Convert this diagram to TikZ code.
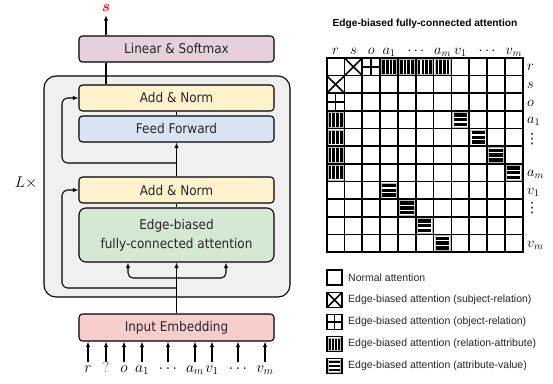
\RequirePackage{fix-cm}
\documentclass[tikz,border=0pt]{standalone}
\usepackage{fontspec}
\usepackage{bm}
\usetikzlibrary{arrows.meta}
\newfontfamily\boxfont[FakeStretch=0.9]{DejaVu Sans}
\newfontfamily\legfont{Liberation Sans}
\newfontfamily\dotsfont{DejaVu Sans}
\definecolor{cLin}{HTML}{E6D0DE}
\definecolor{cAdd}{HTML}{FFF2CC}
\definecolor{cFF}{HTML}{DAE3F3}
\definecolor{cEdge}{HTML}{D5E8D4}
\definecolor{cEmb}{HTML}{F8CECC}
\definecolor{cOut}{HTML}{F0F0F0}
\newcommand\gridX{326.7}
\newcommand\gridY{58}
\newcommand\gridW{17.82}
\newcommand\gridH{17.64}
\newcommand\patX[4]{\draw[pline] ({#1},{#2}) -- ({#1+#3},{#2+#4}) ({#1},{#2+#4}) -- ({#1+#3},{#2});}
\newcommand\patP[4]{\draw[pline] ({#1+#3/2},{#2}) -- ({#1+#3/2},{#2+#4}) ({#1},{#2+#4/2}) -- ({#1+#3},{#2+#4/2});}
\newcommand\patV[4]{%
  \draw[gray!55, line width=0.5pt] ({#1+1.3},{#2+1.3}) rectangle ({#1+#3-1.3},{#2+#4-1.3});%
  \pgfmathsetmacro\pbw{(#3-2*2-3*1.1)/4}%
  \foreach \k in {0,...,3}{\fill ({#1+2+\k*(\pbw+1.1)},{#2+2}) rectangle ++(\pbw,{#4-4});}}
\newcommand\patH[4]{%
  \draw[gray!55, line width=0.5pt] ({#1+1.3},{#2+1.3}) rectangle ({#1+#3-1.3},{#2+#4-1.3});%
  \pgfmathsetmacro\pbh{(#4-2*2.3-2*1.3)/3}%
  \foreach \k in {0,...,2}{\fill ({#1+2.3},{#2+2.3+\k*(\pbh+1.3)}) rectangle ++({#3-4.6},\pbh);}}
\begin{document}
\begin{tikzpicture}[x=1pt,y=-1pt]
\tikzset{
 blk/.style={draw=black, line width=1.1pt, rounded corners=3.5pt, minimum width=195pt, minimum height=26pt, inner sep=0pt, font=\boxfont\fontsize{13.4}{19}\selectfont, text=black!85},
 arr/.style={line width=1.1pt, -{Latex[length=5.5pt,width=4.5pt]}},
 dblarr/.style={line width=1.1pt, {Latex[length=5.5pt,width=4.5pt]}-{Latex[length=5.5pt,width=4.5pt]}},
 ln/.style={line width=1.1pt},
 mlab/.style={font=\fontsize{15.5}{17}\selectfont, inner sep=0pt},
 glab/.style={font=\fontsize{14.5}{16}\selectfont, inner sep=0pt},
 vdlab/.style={font=\dotsfont\fontsize{14}{16}\selectfont, inner sep=0pt},
 pline/.style={line width=1.6pt},
 gline/.style={line width=1.7pt, line cap=rect},
 leg/.style={font=\legfont\fontsize{10.5}{12}\selectfont, anchor=west, inner sep=0pt, text=black!85},
 ttl/.style={font=\legfont\bfseries\fontsize{10.2}{12}\selectfont, inner sep=0pt},
}
\useasboundingbox (0,0) rectangle (553,383);
% ---------- left: model ----------
\node[draw, fill=cOut, line width=1.1pt, rounded corners=12pt, minimum width=246pt, minimum height=221pt, inner sep=0pt] (outer) at (167,186.5) {};
\node[blk, fill=cLin] (lin) at (176.5,49) {Linear \& Softmax};
\node[blk, fill=cAdd] (an2) at (176.5,98) {Add \& Norm};
\node[blk, fill=cFF] (ff) at (176.5,129) {Feed Forward};
\node[blk, fill=cAdd] (an1) at (176.5,190) {Add \& Norm};
\node[blk, fill=cEdge, minimum height=54pt, rounded corners=7pt, align=center] (eb) at (176.5,235) {Edge-biased\\fully-connected attention};
\node[blk, fill=cEmb, minimum height=27pt] (emb) at (176.5,327.5) {Input Embedding};
\node[mlab, text=red, anchor=base] (sout) at (106,11) {$\bm{s}$};
\node[mlab] (lx) at (26,183) {$L\times$};
% connectors
\draw[ln] (an2.north -| sout) -- (lin.south -| sout);
\draw[arr] (lin.north -| sout) -- ([yshift=-4pt]sout.south);
\draw[ln] (an2.south) -- (ff.north);
\draw[arr] (an1.north) -- (ff.south);
\draw[ln] (an1.south) -- (eb.north);
\draw[arr] (emb.north) -- (eb.south);
\coordinate (fk) at (176.5,278);
\draw[dblarr, rounded corners=5pt] ([xshift=-48.5pt]eb.south) |- (fk) -| ([xshift=49.5pt]eb.south);
\coordinate (r2a) at (176.5,163);
\draw[arr, rounded corners=6pt] (r2a) -- (62,163) -- (62,98) -- (an2.west);
\coordinate (r1a) at (176.5,288);
\draw[arr, rounded corners=6pt] (r1a) -- (62,288) -- (62,190) -- (an1.west);
% inputs
\foreach \x/\t [count=\i] in {88/{$r$}, 106/{\color{red}?}, 124/{$o$}, 142/{$a_1$}, 168/{$\cdots$}, 195/{$a_m$}, 212/{$v_1$}, 238/{$\cdots$}, 265/{$v_m$}}{
  \node[mlab, anchor=base] (in\i) at (\x,372) {\t};
  \coordinate (it\i) at (\x,362);
  \draw[arr] (it\i) -- (it\i |- emb.south);
}
% ---------- right: attention grid ----------
\node[ttl] (title) at (425,24) {Edge-biased fully-connected attention};
% patterns
\foreach \c/\r in {2/1,1/2}{
  \pgfmathsetmacro\xa{\gridX+(\c-1)*\gridW}\pgfmathsetmacro\ya{\gridY+(\r-1)*\gridH}
  \patX{\xa}{\ya}{\gridW}{\gridH}}
\foreach \c/\r in {3/1,1/3}{
  \pgfmathsetmacro\xa{\gridX+(\c-1)*\gridW}\pgfmathsetmacro\ya{\gridY+(\r-1)*\gridH}
  \patP{\xa}{\ya}{\gridW}{\gridH}}
\foreach \c/\r in {4/1,5/1,6/1,7/1,1/4,1/5,1/6,1/7}{
  \pgfmathsetmacro\xa{\gridX+(\c-1)*\gridW}\pgfmathsetmacro\ya{\gridY+(\r-1)*\gridH}
  \patV{\xa}{\ya}{\gridW}{\gridH}}
\foreach \c/\r in {8/4,9/5,10/6,11/7,4/8,5/9,6/10,7/11}{
  \pgfmathsetmacro\xa{\gridX+(\c-1)*\gridW}\pgfmathsetmacro\ya{\gridY+(\r-1)*\gridH}
  \patH{\xa}{\ya}{\gridW}{\gridH}}
% grid lines
\foreach \i in {0,...,11}{
  \draw[gline] ({\gridX+\i*\gridW},\gridY) -- ++(0,{11*\gridH});
  \draw[gline] (\gridX,{\gridY+\i*\gridH}) -- ++({11*\gridW},0);
}
% column labels
\foreach \x/\t [count=\i] in {1/{$r$}, 2/{$s$}, 3/{$o$}, 4/{$a_1$}, 5.5/{$\cdots$}, 7/{$a_m$}, 8/{$v_1$}, 9.5/{$\cdots$}, 11/{$v_m$}}{
  \node[glab, anchor=base] (cl\i) at ({\gridX+(\x-0.5)*\gridW},54) {\t};
}
% row labels
\foreach \y/\t [count=\i] in {1/{$r$}, 2/{$s$}, 3/{$o$}, 4/{$a_1$}, 7/{$a_m$}, 8/{$v_1$}, 11/{$v_m$}}{
  \node[glab, anchor=base west] (rl\i) at (527,{\gridY+(\y-0.5)*\gridH+4}) {\t};
}
\node[vdlab] (rd1) at (532,139) {⋮};
\node[vdlab] (rd2) at (532,208) {⋮};
% ---------- legend ----------
\draw[pline] (327,270) rectangle ++(15,15);
\node[leg] (lg1) at (348,277.5) {Normal attention};
\draw[pline] (327,292.5) rectangle ++(15,15);
\patX{327}{292.5}{15}{15}
\node[leg] (lg2) at (348,300) {Edge-biased attention (subject-relation)};
\draw[pline] (327,314.5) rectangle ++(15,15);
\patP{327}{314.5}{15}{15}
\node[leg] (lg3) at (348,322) {Edge-biased attention (object-relation)};
\patV{327}{336.5}{15}{15}
\draw[pline] (327,336.5) rectangle ++(15,15);
\node[leg] (lg4) at (348,344) {Edge-biased attention (relation-attribute)};
\patH{327}{358.5}{15}{15}
\draw[pline] (327,358.5) rectangle ++(15,15);
\node[leg] (lg5) at (348,366) {Edge-biased attention (attribute-value)};
\end{tikzpicture}
\end{document}
